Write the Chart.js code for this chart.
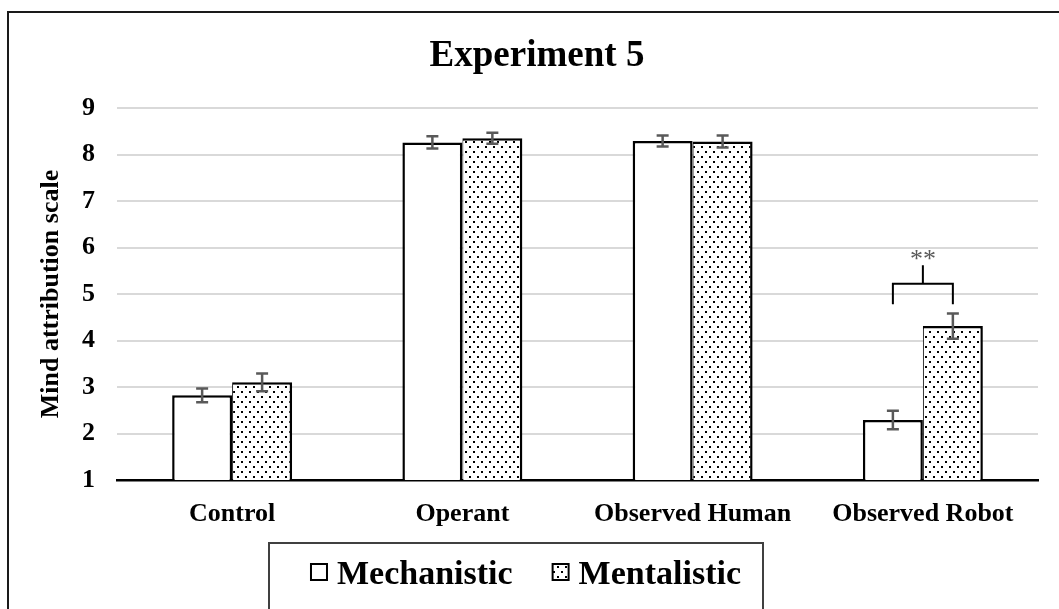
<!DOCTYPE html>
<html>
<head>
<meta charset="utf-8">
<script src="https://cdn.jsdelivr.net/npm/chart.js@4.4.1/dist/chart.umd.min.js"></script>
<style>
  html, body { margin: 0; padding: 0; background: #ffffff; }
  canvas { display: block; }
</style>
</head>
<body>
<canvas id="chart" width="1059" height="609"></canvas>
<script>
// Mean mind-attribution ratings by condition and explanation type
const categories = ['Control', 'Operant', 'Observed Human', 'Observed Robot'];
const seriesNames = ['Mechanistic', 'Mentalistic'];
const mechanistic = [2.82, 8.26, 8.29, 2.29];
const mentalistic = [3.10, 8.35, 8.28, 4.31];
const mechanisticSE = [0.15, 0.13, 0.12, 0.20];
const mentalisticSE = [0.19, 0.12, 0.13, 0.27];
const yTicks = [1, 2, 3, 4, 5, 6, 7, 8, 9];
const chartTitle = 'Experiment 5';
const yAxisTitle = 'Mind attribution scale';
// Significance bracket between the two Observed Robot bars (scale units)
const sigCategory = 3;
const sigMark = '**';
const sigBracketLevel = 5.22;
const sigLegEnd = 4.78;
const sigStemTop = 5.62;

const SERIF = "'Liberation Serif', 'Times New Roman', serif";

// Sparse dot fill used for the Mentalistic bars
function makeDotPattern(ctx) {
  const tile = document.createElement('canvas');
  tile.width = 8; tile.height = 10;
  const g = tile.getContext('2d');
  g.fillStyle = '#ffffff';
  g.fillRect(0, 0, 8, 10);
  g.fillStyle = '#000000';
  g.fillRect(1, 1, 2, 2);
  g.fillRect(5, 6, 2, 2);
  return ctx.createPattern(tile, 'repeat');
}

const canvas = document.getElementById('chart');
const ctx0 = canvas.getContext('2d');
const dots = makeDotPattern(ctx0);

// Outer frame and chart title
const framePlugin = {
  id: 'frame',
  beforeDraw(chart) {
    const ctx = chart.ctx;
    ctx.save();
    ctx.fillStyle = '#ffffff';
    ctx.fillRect(0, 0, chart.width, chart.height);
    ctx.strokeStyle = '#1a1a1a';
    ctx.lineWidth = 2;
    ctx.beginPath();
    ctx.moveTo(8, chart.height + 2);
    ctx.lineTo(8, 12);
    ctx.lineTo(chart.width + 2, 12);
    ctx.stroke();
    ctx.fillStyle = '#000000';
    ctx.font = 'bold 37px ' + SERIF;
    ctx.textAlign = 'center';
    ctx.textBaseline = 'alphabetic';
    ctx.fillText(chartTitle, 537, 66);
    ctx.restore();
  }
};

// Standard-error whiskers and the significance bracket
const errorBarPlugin = {
  id: 'errorBars',
  afterDatasetsDraw(chart) {
    const ctx = chart.ctx;
    const y = chart.scales.y;
    ctx.save();
    ctx.strokeStyle = '#595959';
    ctx.lineWidth = 2.5;
    chart.data.datasets.forEach((ds, di) => {
      const meta = chart.getDatasetMeta(di);
      meta.data.forEach((bar, i) => {
        const v = ds.data[i];
        const e = ds.errors[i];
        const top = y.getPixelForValue(v + e);
        const bot = y.getPixelForValue(v - e);
        const x = bar.x;
        ctx.beginPath();
        ctx.moveTo(x, top); ctx.lineTo(x, bot);
        ctx.moveTo(x - 6, top); ctx.lineTo(x + 6, top);
        ctx.moveTo(x - 6, bot); ctx.lineTo(x + 6, bot);
        ctx.stroke();
      });
    });

    const a = chart.getDatasetMeta(0).data[sigCategory];
    const b = chart.getDatasetMeta(1).data[sigCategory];
    const level = y.getPixelForValue(sigBracketLevel);
    const legEnd = y.getPixelForValue(sigLegEnd);
    const stemTop = y.getPixelForValue(sigStemTop);
    const mid = chart.scales.x.getPixelForValue(sigCategory);
    ctx.strokeStyle = '#000000';
    ctx.lineWidth = 2;
    ctx.beginPath();
    ctx.moveTo(a.x, legEnd); ctx.lineTo(a.x, level); ctx.lineTo(b.x, level); ctx.lineTo(b.x, legEnd);
    ctx.moveTo(mid, level); ctx.lineTo(mid, stemTop);
    ctx.stroke();
    ctx.fillStyle = '#595959';
    ctx.font = '26px ' + SERIF;
    ctx.textAlign = 'center';
    ctx.textBaseline = 'alphabetic';
    ctx.fillText(sigMark, mid, stemTop + 2);
    ctx.restore();
  }
};

// Boxed legend along the bottom edge
const boxLegendPlugin = {
  id: 'boxLegend',
  afterDraw(chart) {
    const ctx = chart.ctx;
    const left = 269, right = 763, top = 543;
    ctx.save();
    ctx.strokeStyle = '#404040';
    ctx.lineWidth = 2;
    ctx.strokeRect(left, top, right - left, chart.height - top + 6);
    ctx.font = 'bold 34px ' + SERIF;
    ctx.textBaseline = 'alphabetic';
    ctx.textAlign = 'left';
    const marker = 16, gapText = 10, gapItem = 40;
    const items = chart.data.datasets.map(ds => ({ label: ds.label, fill: ds.backgroundColor, w: ctx.measureText(ds.label).width }));
    let total = 0;
    items.forEach((it, i) => { total += marker + gapText + it.w + (i < items.length - 1 ? gapItem : 0); });
    let x = (left + right) / 2 + 10 - total / 2;
    items.forEach(it => {
      ctx.fillStyle = it.fill;
      ctx.fillRect(x, 564, marker, marker);
      ctx.lineWidth = 2;
      ctx.strokeStyle = '#000000';
      ctx.strokeRect(x, 564, marker, marker);
      x += marker + gapText;
      ctx.fillStyle = '#000000';
      ctx.fillText(it.label, x, 584);
      x += it.w + gapItem;
    });
    ctx.restore();
  }
};

new Chart(canvas, {
  type: 'bar',
  data: {
    labels: categories,
    datasets: [
      {
        label: seriesNames[0],
        data: mechanistic,
        errors: mechanisticSE,
        backgroundColor: '#ffffff',
        borderColor: '#000000',
        borderWidth: { top: 2.5, left: 2.5, right: 2.5, bottom: 0 },
        borderSkipped: false
      },
      {
        label: seriesNames[1],
        data: mentalistic,
        errors: mentalisticSE,
        backgroundColor: dots,
        borderColor: '#000000',
        borderWidth: { top: 2.5, left: 1, right: 2.5, bottom: 0 },
        borderSkipped: false
      }
    ]
  },
  options: {
    responsive: false,
    animation: false,
    devicePixelRatio: 1,
    layout: { padding: { top: 108, right: 21, left: 0, bottom: 0 } },
    datasets: { bar: { barPercentage: 1.0, categoryPercentage: 0.521 } },
    plugins: {
      legend: { display: false },
      title: { display: false },
      tooltip: { enabled: false }
    },
    scales: {
      x: {
        grid: { display: false, drawTicks: false },
        border: { display: true, color: '#000000', width: 2.5 },
        ticks: {
          color: '#000000',
          padding: 19,
          maxRotation: 0,
          font: { family: SERIF, size: 26, weight: 'bold' }
        },
        afterFit(scale) { scale.height = 129; }
      },
      y: {
        min: 1,
        max: 9,
        afterBuildTicks(scale) { scale.ticks = yTicks.map(v => ({ value: v })); },
        grid: { color: '#d9d9d9', lineWidth: 2, drawTicks: false },
        border: { display: false },
        ticks: {
          color: '#000000',
          padding: 22,
          font: { family: SERIF, size: 26, weight: 'bold' }
        },
        title: {
          display: true,
          text: yAxisTitle,
          color: '#000000',
          padding: { top: 36, bottom: 0 },
          font: { family: SERIF, size: 26, weight: 'bold' }
        },
        afterFit(scale) { scale.width = 117; }
      }
    }
  },
  plugins: [framePlugin, errorBarPlugin, boxLegendPlugin]
});
</script>
</body>
</html>
